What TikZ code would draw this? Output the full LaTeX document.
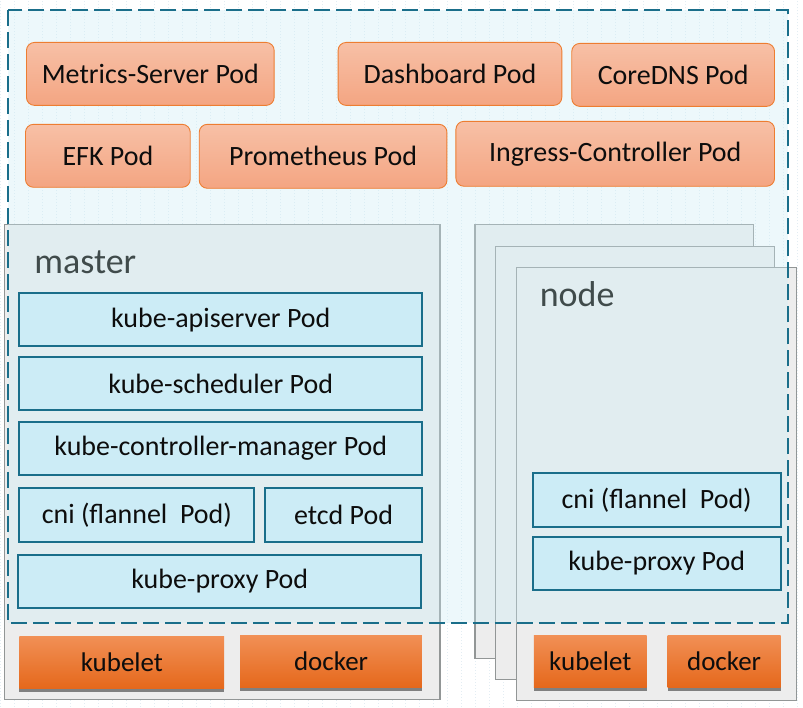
\documentclass[tikz,border=0pt]{standalone}
\usepackage{fontspec}
\setmainfont{Carlito}
\usepackage{xcolor}
\usetikzlibrary{shadows}

\definecolor{podline}{HTML}{1A6E8A}
\definecolor{podfill}{HTML}{CCECF6}
\definecolor{addonline}{HTML}{ED7D31}
\definecolor{addontop}{HTML}{F7C0A6}
\definecolor{addonbottom}{HTML}{F4A582}
\definecolor{agenttop}{HTML}{F18F55}
\definecolor{agentbottom}{HTML}{E5681B}
\definecolor{hostfill}{HTML}{EDEDED}
\definecolor{hostline}{HTML}{929696}
\definecolor{labelgrey}{HTML}{404B4B}
\definecolor{clusterfill}{HTML}{CCEDF6}
\definecolor{gridgrey}{HTML}{E3EDF3}

\begin{document}
\begin{tikzpicture}[x=1pt, y=-1pt,
  every node/.style={inner sep=0pt, outer sep=0pt, text=black!95},
  addon/.style={rectangle, rounded corners=8pt, draw=addonline, line width=0.9pt, top color=addontop, bottom color=addonbottom, anchor=north west, font=\fontsize{28}{32}\selectfont},
  pod/.style={rectangle, draw=podline, fill=podfill, line width=2pt, anchor=north west, font=\fontsize{28}{32}\selectfont},
  agent/.style={rectangle, top color=agenttop, bottom color=agentbottom, anchor=north west, font=\fontsize{27}{32}\selectfont,
    drop shadow={shadow xshift=0pt, shadow yshift=-3pt, fill=black!50, opacity=1}},
  host/.style={rectangle, draw=hostline, fill=hostfill, line width=1.2pt, anchor=north west},
  hostlabel/.style={anchor=base west, text=labelgrey, font=\fontsize{36}{42}\selectfont}]

  % background
  \fill[white] (0,0) rectangle (803,707);
  \draw[gridgrey, dotted, line width=1pt, step=14] (0,0) grid (803,707);

  % hosts
  \node[host, minimum width=436, minimum height=476] (master) at (4,224) {};
  \node[host, minimum width=279, minimum height=435] (node3) at (475,224) {};
  \node[host, minimum width=279, minimum height=434] (node2) at (496,246) {};
  \node[host, minimum width=280, minimum height=434] (node1) at (517,267) {};

  % cluster overlay
  \draw[podline, line width=2pt, dash pattern=on 16pt off 6pt, fill=clusterfill, fill opacity=0.34]
    (8,10) rectangle (788,623);

  \node[hostlabel] (mastername) at (34,273) {master};
  \node[hostlabel] (nodename) at (540,306) {node};

  % add-ons
  \node[addon, minimum width=248, minimum height=63] (metrics) at (26,42) {Metrics-Server Pod};
  \node[addon, minimum width=224, minimum height=63] (dashboard) at (338,42) {Dashboard Pod};
  \node[addon, minimum width=203, minimum height=63] (coredns) at (572,43) {CoreDNS Pod};
  \node[addon, minimum width=165, minimum height=63] (efk) at (25,124) {EFK Pod};
  \node[addon, minimum width=248, minimum height=64] (prometheus) at (199,124) {Prometheus Pod};
  \node[addon, minimum width=319, minimum height=65] (ingress) at (456,121) {Ingress-Controller Pod};

  % master pods
  \node[pod, minimum width=403, minimum height=53] (apiserver) at (19,293) {kube-apiserver Pod};
  \node[pod, minimum width=403, minimum height=53] (scheduler) at (19,357) {kube-scheduler Pod};
  \node[pod, minimum width=403, minimum height=53] (controller) at (19,422) {kube-controller-manager Pod};
  \node[pod, minimum width=235, minimum height=54] (mastercni) at (19,488) {cni (flannel~ Pod)};
  \node[pod, minimum width=157, minimum height=54] (etcd) at (265,488) {etcd Pod};
  \node[pod, minimum width=403, minimum height=53] (masterproxy) at (18,555) {kube-proxy Pod};

  % node pods
  \node[pod, minimum width=248, minimum height=54] (nodecni) at (533,473) {cni (flannel~ Pod)};
  \node[pod, minimum width=248, minimum height=53] (nodeproxy) at (533,537) {kube-proxy Pod};

  % agents
  \node[agent, minimum width=205, minimum height=52] (masterkubelet) at (19,637) {kubelet};
  \node[agent, minimum width=182, minimum height=52] (masterdocker) at (240,636) {docker};
  \node[agent, minimum width=113, minimum height=52] (nodekubelet) at (534,636) {kubelet};
  \node[agent, minimum width=113, minimum height=52] (nodedocker) at (668,636) {docker};

  \useasboundingbox (0,0) rectangle (803,707);
\end{tikzpicture}
\end{document}
